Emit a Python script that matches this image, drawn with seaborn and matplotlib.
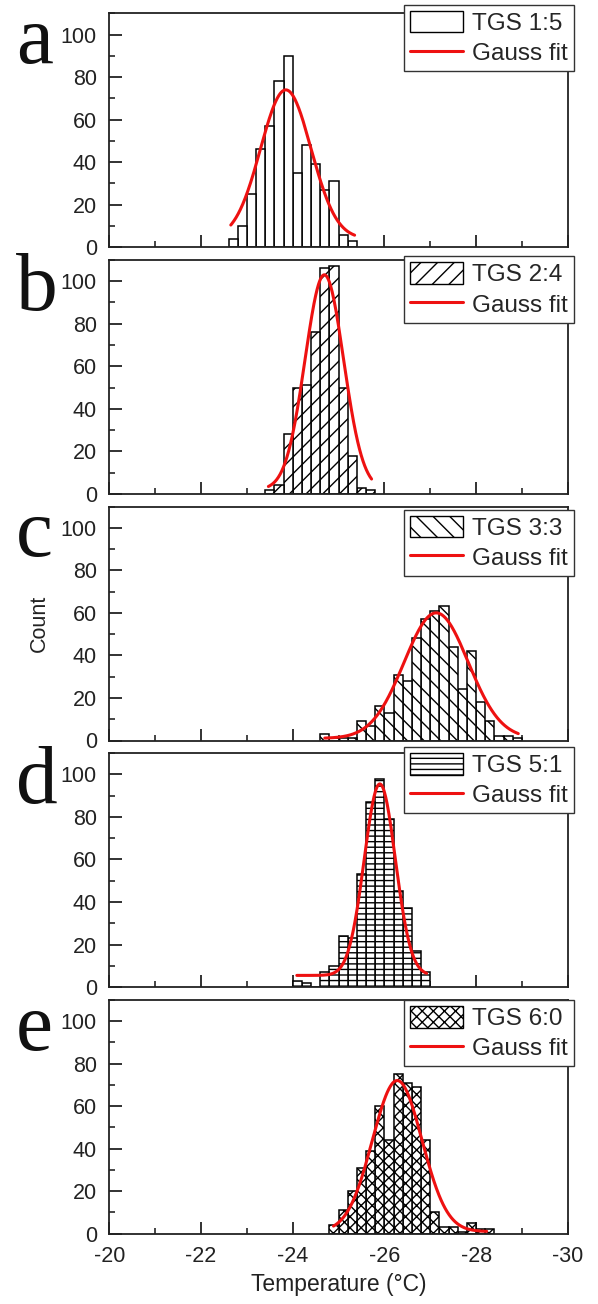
import numpy as np
import pandas as pd
import matplotlib
matplotlib.use("Agg")
import matplotlib.pyplot as plt
import seaborn as sns
from matplotlib.patches import Patch
from matplotlib.lines import Line2D
from matplotlib.ticker import MultipleLocator

sns.set_style("ticks")
plt.rcParams['font.family'] = ['Liberation Sans', 'DejaVu Sans']
plt.rcParams['axes.unicode_minus'] = False

labels = ["TGS 1:5", "TGS 2:4", "TGS 3:3", "TGS 5:1", "TGS 6:0"]
letters = ["a", "b", "c", "d", "e"]
hatches = ["", "//", "\\\\", "---", "xxx"]
bin_width = 0.2

# warmest bin edge and counts per 0.2 degC bin, going colder
starts = [-22.6, -23.4, -24.6, -24.0, -24.8]
counts_a = [4, 10, 25, 46, 57, 78, 90, 35, 48, 39, 27, 31, 6, 3]
counts_b = [2, 4, 28, 50, 51, 76, 106, 107, 50, 18, 3, 2]
counts_c = [3, 1, 1, 1, 9, 7, 16, 13, 31, 28, 48, 57, 61, 63, 44, 24, 42, 18, 9, 2, 2, 1]
counts_d = [3, 2, 0, 7, 10, 24, 23, 53, 87, 98, 79, 45, 37, 17, 7]
counts_e = [4, 11, 20, 31, 39, 60, 44, 75, 71, 69, 44, 10, 3, 3, 1, 5, 2, 2]
all_counts = [counts_a, counts_b, counts_c, counts_d, counts_e]

# Gauss fit parameters: centre, sigma, amplitude, offset, curve range
fit_center = [-23.85, -24.69, -27.13, -25.90, -26.28]
fit_sigma = [0.55, 0.42, 0.70, 0.34, 0.54]
fit_amp = [70, 101, 59, 90, 71]
fit_y0 = [4, 2, 1, 5.5, 1]
fit_from = [-22.65, -23.47, -24.70, -24.09, -24.89]
fit_to = [-25.35, -25.72, -28.92, -26.92, -28.23]

legend_y = [1.037, 1.016, 0.987, 1.027, 1.0]

W, H = 598, 1304
fig = plt.figure(figsize=(W / 100, H / 100), dpi=100)

ax_left, ax_w = 109.3, 458.5
top0, step, ax_h = 13.3, 246.6, 234

axes = []
for i in range(5):
    top = top0 + i * step
    ax = fig.add_axes([ax_left / W, 1 - (top + ax_h) / H, ax_w / W, ax_h / H])
    axes.append(ax)

    counts = all_counts[i]
    n = len(counts)
    edges = starts[i] - bin_width * np.arange(n + 1)
    df = pd.DataFrame({"temp": starts[i] - bin_width * (np.arange(n) + 0.5),
                       "count": np.asarray(counts, dtype=float)})
    sns.histplot(data=df, x="temp", weights="count", bins=list(np.sort(edges)), ax=ax,
                 color="white", edgecolor="black", linewidth=1.1,
                 hatch=hatches[i], alpha=1)

    xs = np.linspace(fit_from[i], fit_to[i], 300)
    ys = fit_y0[i] + fit_amp[i] * np.exp(-(xs - fit_center[i]) ** 2 / (2 * fit_sigma[i] ** 2))
    sns.lineplot(x=xs, y=ys, ax=ax, color="#ee1111", linewidth=2.2)

    ax.set_xlim(-20, -30)
    ax.set_ylim(0, 110)
    ax.xaxis.set_major_locator(MultipleLocator(2))
    ax.xaxis.set_minor_locator(MultipleLocator(1))
    ax.yaxis.set_major_locator(MultipleLocator(20))
    ax.yaxis.set_minor_locator(MultipleLocator(10))
    ax.tick_params(which="major", direction="in", length=9, width=1.3,
                   labelsize=15.5, pad=9, colors="#222222")
    ax.tick_params(which="minor", direction="in", length=4.5, width=1.2)
    for sp in ax.spines.values():
        sp.set_linewidth(1.3)
        sp.set_color("#222222")
    ax.set_ylabel("")
    ax.set_xlabel("")
    if i < 4:
        ax.tick_params(axis="x", labelbottom=False)

    handles = [Patch(facecolor="white", edgecolor="black", hatch=hatches[i], linewidth=1),
               Line2D([0], [0], color="#ee1111", linewidth=2.2)]
    leg = ax.legend(handles, [labels[i], "Gauss fit"], loc="upper right",
                    bbox_to_anchor=(1.013, legend_y[i]), borderaxespad=0,
                    fontsize=17.5, frameon=True, fancybox=False, framealpha=1,
                    edgecolor="#333333", handlelength=2.2, handleheight=1.0,
                    handletextpad=0.35, labelspacing=0.25, borderpad=0.25)
    leg.get_frame().set_linewidth(1.0)

    fig.text(16 / W, 1 - (top + 50) / H, letters[i], fontsize=60,
             family="Liberation Serif", ha="left", va="baseline", color="#111111")

axes[2].set_ylabel("Count", fontsize=15.5, labelpad=8, color="#222222")
axes[4].set_xlabel("Temperature (\u00b0C)", fontsize=16.5, labelpad=4, color="#222222")

fig.savefig("out.png", dpi=100)
